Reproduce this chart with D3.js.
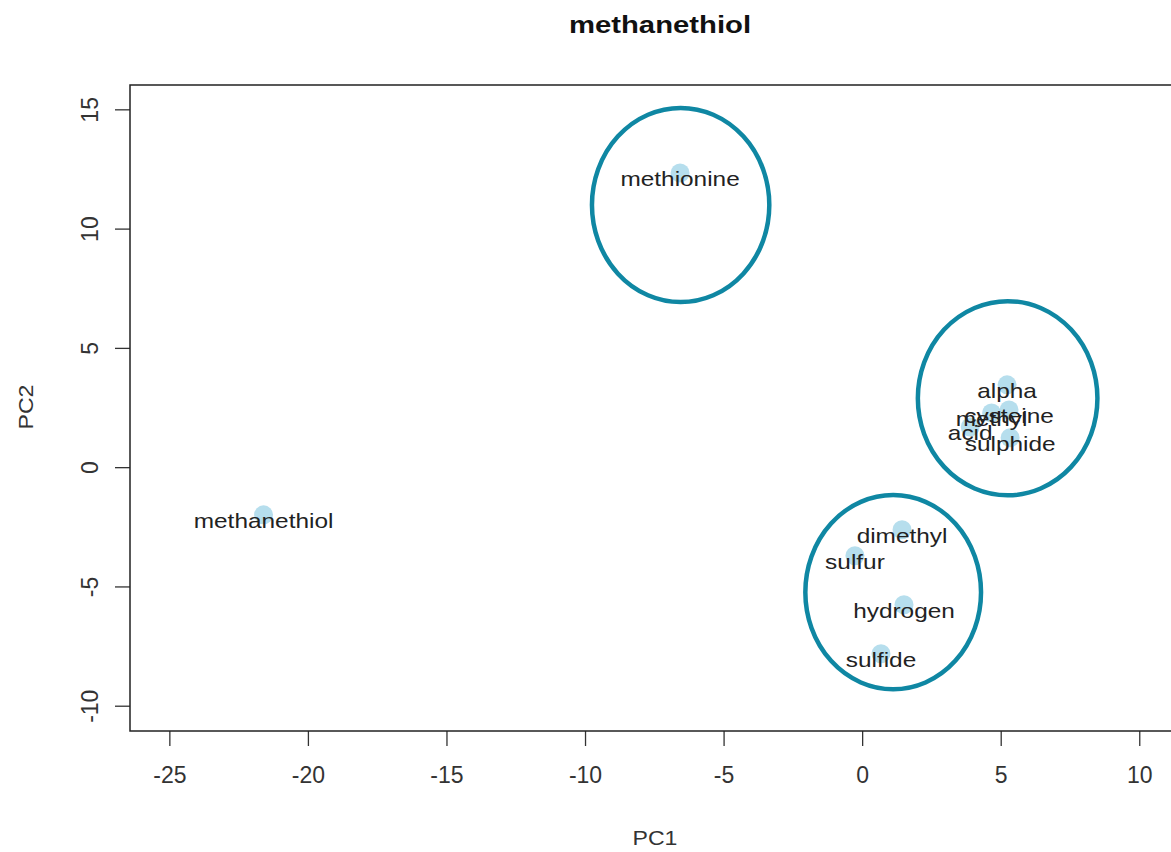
<!DOCTYPE html>
<html>
<head>
<meta charset="utf-8">
<script src="https://cdn.jsdelivr.net/npm/d3@7"></script>
<style>
  body { margin: 0; background: #fff; }
  text { font-family: "Liberation Sans", Arial, sans-serif; }
</style>
</head>
<body>
<div id="chart"></div>
<script>
// compound labels and their PCA scores
const labels = ["methionine", "methanethiol", "alpha", "cysteine", "methyl", "acid", "sulphide",
                "dimethyl", "sulfur", "hydrogen", "sulfide"];
const pc1 = [-6.57, -21.6, 5.23, 5.30, 4.67, 3.90, 5.34, 1.44, -0.26, 1.51, 0.68];
const pc2 = [12.33, -2.0, 3.45, 2.40, 2.27, 1.68, 1.23, -2.62, -3.71, -5.77, -7.82];

// annotation ellipses drawn around the groups
const groupCx = [-6.55, 5.25, 1.12];
const groupCy = [10.99, 2.89, -5.24];
const groupRx = [3.2, 3.24, 3.17];
const groupRy = [4.07, 4.07, 4.07];

const xTicks = [-25, -20, -15, -10, -5, 0, 5, 10];
const yTicks = [-10, -5, 0, 5, 10, 15];

const W = 1171, H = 852;
const PLOT = { LEFT: 130, RIGHT: 1180, TOP: 85, BOTTOM: 731 };

const svg = d3.select("#chart").append("svg")
    .attr("width", W)
    .attr("height", H);

const x = d3.scaleLinear().domain([-26.42, 11.47]).range([PLOT.LEFT, PLOT.RIGHT]);
const y = d3.scaleLinear().domain([-11.06, 16.02]).range([PLOT.BOTTOM, PLOT.TOP]);

// title
svg.append("text")
    .attr("transform", "translate(660, 33) scale(1.22,1)")
    .attr("text-anchor", "middle")
    .style("font-size", "24px")
    .style("font-weight", "bold")
    .attr("fill", "#111")
    .text("methanethiol");

// axes
const xAxis = svg.append("g")
    .attr("transform", `translate(0, ${PLOT.BOTTOM})`)
    .call(d3.axisBottom(x).tickValues(xTicks).tickSize(15).tickPadding(21).tickFormat(d => String(d)));
const yAxis = svg.append("g")
    .attr("transform", `translate(${PLOT.LEFT}, 0)`)
    .call(d3.axisLeft(y).tickValues(yTicks).tickSize(15).tickFormat(d => String(d)));

[xAxis, yAxis].forEach(g => {
    g.select(".domain").remove();
    g.selectAll(".tick line").attr("stroke", "#333").attr("stroke-width", 1.3);
    g.selectAll("text").style("font-size", "23px").attr("fill", "#333")
        .style("font-family", "'Liberation Sans', Arial, sans-serif");
});

yAxis.selectAll(".tick text")
    .attr("transform", "rotate(-90)")
    .attr("x", 0).attr("y", -40)
    .attr("dy", "0.35em")
    .attr("text-anchor", "middle");

// plot box
svg.append("rect")
    .attr("x", PLOT.LEFT).attr("y", PLOT.TOP)
    .attr("width", PLOT.RIGHT - PLOT.LEFT)
    .attr("height", PLOT.BOTTOM - PLOT.TOP)
    .attr("fill", "none")
    .attr("stroke", "#222")
    .attr("stroke-width", 1.5);

// axis titles
svg.append("text")
    .attr("transform", "translate(655, 845) scale(1.1,1)")
    .attr("text-anchor", "middle")
    .style("font-size", "21px").attr("fill", "#333")
    .text("PC1");
svg.append("text")
    .attr("transform", "translate(33, 407) rotate(-90) scale(1.1,1)")
    .attr("text-anchor", "middle")
    .style("font-size", "21px").attr("fill", "#333")
    .text("PC2");

const pts = labels.map((l, i) => ({ label: l, x: pc1[i], y: pc2[i] }));

// points
svg.append("g").selectAll("circle")
    .data(pts).enter()
    .append("circle")
    .attr("cx", d => x(d.x))
    .attr("cy", d => y(d.y))
    .attr("r", 9.5)
    .attr("fill", "#a9d8ea")
    .attr("opacity", 0.85);

// labels
svg.append("g").selectAll("text")
    .data(pts).enter()
    .append("text")
    .attr("transform", d => `translate(${x(d.x)}, ${y(d.y) + 13}) scale(1.22,1)`)
    .attr("text-anchor", "middle")
    .style("font-size", "20px")
    .attr("fill", "#222")
    .text(d => d.label);

// group ellipses
svg.append("g").selectAll("ellipse")
    .data(groupCx.map((c, i) => ({ cx: c, cy: groupCy[i], rx: groupRx[i], ry: groupRy[i] })))
    .enter()
    .append("ellipse")
    .attr("cx", d => x(d.cx))
    .attr("cy", d => y(d.cy))
    .attr("rx", d => x(d.cx + d.rx) - x(d.cx))
    .attr("ry", d => y(d.cy - d.ry) - y(d.cy))
    .attr("fill", "none")
    .attr("stroke", "#0f87a3")
    .attr("stroke-width", 4.5);
</script>
</body>
</html>
